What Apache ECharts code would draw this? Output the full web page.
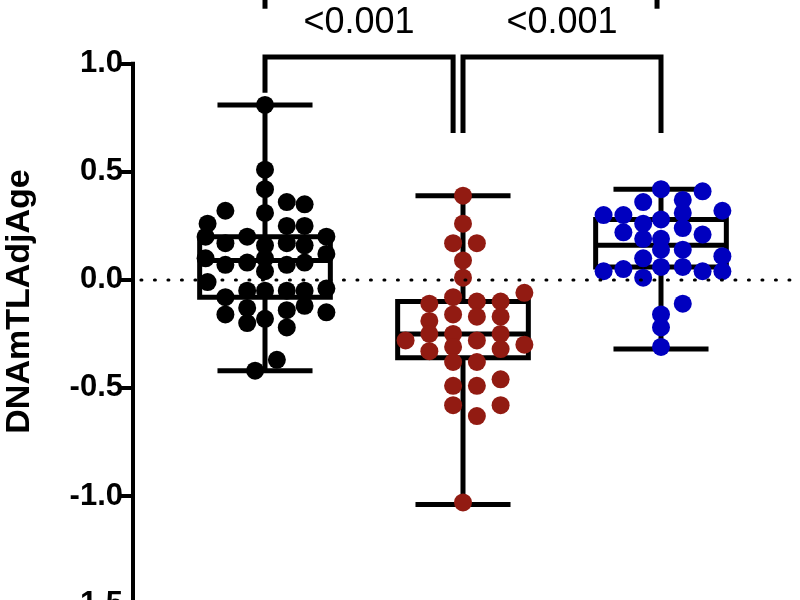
<!DOCTYPE html>
<html><head><meta charset="utf-8">
<script src="https://cdn.jsdelivr.net/npm/echarts@6/dist/echarts.min.js"></script>
<style>html,body{margin:0;background:#fff}#c{width:800px;height:600px}</style>
</head><body><div id="c"></div>
<script>
const groups = ['Group 1','Group 2','Group 3'];
const colors = ['#000000','#921b12','#0000bf'];
// [jitter, value]
const g1 = [[0,0.81],[0,0.51],[0,0.42],[0,0.31],[0.11,0.36],[0.2,0.35],[-0.2,0.32],[-0.29,0.26],[0.11,0.25],[0.2,0.25],[-0.3,0.2],[-0.09,0.2],[0.31,0.2],[-0.2,0.17],[0,0.16],[0.11,0.17],[0.2,0.16],[-0.3,0.1],[-0.2,0.07],[-0.09,0.08],[0,0.1],[0.11,0.07],[0.2,0.08],[0.31,0.12],[0,0.04],[-0.29,-0.01],[-0.2,-0.08],[-0.09,-0.05],[0,-0.05],[0.11,-0.05],[0.2,-0.05],[0.31,-0.04],[-0.2,-0.16],[-0.09,-0.13],[-0.09,-0.2],[0,-0.18],[0.11,-0.14],[0.11,-0.22],[0.2,-0.12],[0.31,-0.15],[0.06,-0.37],[-0.05,-0.42]];
const g2 = [[0,0.39],[0,0.26],[-0.05,0.17],[0.07,0.17],[0,0.09],[0,0.01],[0.31,-0.06],[-0.17,-0.11],[-0.05,-0.08],[0.07,-0.1],[0.19,-0.1],[-0.05,-0.16],[0.07,-0.17],[-0.17,-0.19],[0.19,-0.17],[-0.17,-0.25],[-0.05,-0.25],[0.19,-0.25],[-0.29,-0.28],[0.07,-0.28],[0.31,-0.3],[-0.17,-0.33],[-0.05,-0.31],[0.19,-0.32],[-0.05,-0.38],[0.07,-0.38],[-0.05,-0.49],[0.07,-0.49],[0.19,-0.46],[-0.05,-0.58],[0.07,-0.63],[0.19,-0.58],[0,-1.03]];
const g3 = [[0,0.42],[0.21,0.41],[-0.09,0.36],[0.11,0.37],[-0.29,0.3],[-0.19,0.3],[0.11,0.31],[0.31,0.32],[-0.09,0.26],[0,0.28],[0.11,0.24],[-0.19,0.22],[0.21,0.21],[-0.09,0.19],[0,0.19],[0,0.14],[0.11,0.14],[-0.09,0.1],[0.31,0.11],[-0.29,0.04],[-0.19,0.05],[0,0.06],[0.11,0.06],[0.21,0.04],[0.31,0.04],[-0.09,0.01],[0.11,-0.11],[0,-0.16],[0,-0.22],[0,-0.31]];
// [min, q1, median, q3, max]
const boxStats = [[-0.42,-0.08,0.09,0.2,0.81],[-1.04,-0.36,-0.25,-0.1,0.39],[-0.32,0.06,0.16,0.28,0.42]];
const yTicks = [-1.5,-1.0,-0.5,0,0.5,1.0];
const pLabels = ['<0.001','<0.001'];
// brackets: [x1, x2, yTop, leftLegBottom, rightLegBottom]
const brackets = [[1,1.95,1.032,0.866,0.68],[2.0,3.0,1.032,0.68,0.68]];
const topLegs = [[1,1.3,1.255],[2.98,1.3,1.255]];

const XMIN = 1/3, XMAX = 1/3 + 667/198;
const pts = [g1,g2,g3];
const series = [];
const LW = 5;
series.push({
  type:'custom', z:2, data: boxStats.map((s,i)=>[i+1].concat(s)),
  renderItem:(p,api)=>{
    const x=api.value(0), mn=api.value(1), q1=api.value(2), md=api.value(3), q3=api.value(4), mx=api.value(5);
    const c=(a,b)=>api.coord([a,b]);
    const hw=0.33, cw=0.24;
    const st={stroke:'#000',lineWidth:LW,fill:null};
    const L=(a,b)=>({type:'line',shape:{x1:a[0],y1:a[1],x2:b[0],y2:b[1]},style:st});
    const tl=c(x-hw,q3), br=c(x+hw,q1);
    return {type:'group',children:[
      L(c(x,q3),c(x,mx)), L(c(x,q1),c(x,mn)),
      L(c(x-cw,mx),c(x+cw,mx)), L(c(x-cw,mn),c(x+cw,mn)),
      {type:'rect',shape:{x:tl[0],y:tl[1],width:br[0]-tl[0],height:br[1]-tl[1]},style:st},
      L(c(x-hw,md),c(x+hw,md))
    ]};
  }
});
pts.forEach((g,i)=>{
  series.push({type:'scatter', z:3, symbolSize:18, itemStyle:{color:colors[i],opacity:1},
    data:g.map(d=>[i+1+d[0], d[1]])});
});
series.push({
  type:'custom', z:4, data:[[0]],
  renderItem:(p,api)=>{
    const c=(a,b)=>api.coord([a,b]);
    const ch=[];
    const a1=c(XMIN,1.0), a2=c(XMIN,-1.5);
    ch.push({type:'line',shape:{x1:a1[0],y1:a1[1]-2,x2:a2[0],y2:a2[1]+10},style:{stroke:'#000',lineWidth:4}});
    const z1=c(XMIN+0.04,0), z2=c(XMAX,0);
    ch.push({type:'line',shape:{x1:z1[0],y1:z1[1],x2:z2[0]-5,y2:z2[1]},style:{stroke:'#000',lineWidth:3,lineDash:[1,12.5],lineCap:'round'}});
    const bs={stroke:'#000',lineWidth:LW,fill:null};
    brackets.forEach((b,i)=>{
      const p1=c(b[0],b[3]),p2=c(b[0],b[2]),p3=c(b[1],b[2]),p4=c(b[1],b[4]);
      ch.push({type:'polyline',shape:{points:[p1,p2,p3,p4]},style:bs});
      const m=c((b[0]+b[1])/2, 1.2);
      ch.push({type:'text',x:m[0],y:23,style:{text:pLabels[i],fill:'#000',font:'36px "Liberation Sans", Arial, sans-serif',align:'center',verticalAlign:'middle'}});
    });
    topLegs.forEach(t=>{const q1=c(t[0],t[1]),q2=c(t[0],t[2]);
      ch.push({type:'line',shape:{x1:q1[0],y1:q1[1],x2:q2[0],y2:q2[1]},style:bs});});
    return {type:'group',children:ch};
  }
});
const chart = echarts.init(document.getElementById('c'));
chart.setOption({
  animation:false,
  grid:{left:133,top:-1,height:605,width:667,containLabel:false,outerBoundsMode:'none'},
  xAxis:{type:'value',min:XMIN,max:XMAX,show:false},
  yAxis:{type:'value',min:-1.5,max:1.3,
    name:'DNAmTLAdjAge',nameLocation:'middle',nameGap:96,
    nameTextStyle:{fontSize:34,fontWeight:'bold',color:'#000',fontFamily:'"Liberation Sans", Arial, sans-serif'},
    axisLine:{show:false},splitLine:{show:false},
    axisTick:{show:true,length:12,lineStyle:{color:'#000',width:4},customValues:yTicks},
    axisLabel:{customValues:yTicks,fontSize:31,fontWeight:'bold',color:'#000',margin:10,
      fontFamily:'"Liberation Sans", Arial, sans-serif',formatter:v=>v.toFixed(1)}
  },
  series
});
</script></body></html>
